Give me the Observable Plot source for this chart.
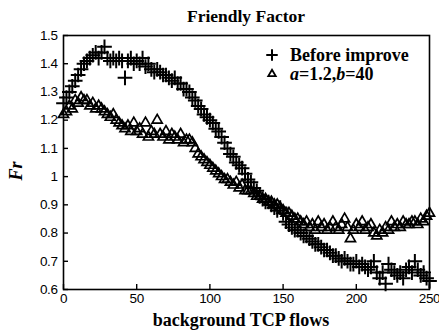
<!DOCTYPE html>
<html>
<head>
<meta charset="utf-8">
<script src="https://cdn.jsdelivr.net/npm/d3@7"></script>
<script src="https://cdn.jsdelivr.net/npm/@observablehq/plot@0.6"></script>
<style>
  html, body { margin: 0; padding: 0; background: #fff; }
  svg { display: block; }
</style>
</head>
<body>
<div id="chart"></div>
<script>
const flows = [0,2,4,6,8,10,12,14,16,18,20,22,24,26,28,30,32,34,36,38,40,42,44,46,48,50,52,54,56,58,60,62,64,66,68,70,72,74,76,78,80,82,84,86,88,90,92,94,96,98,100,102,104,106,108,110,112,114,116,118,120,122,124,126,128,130,132,134,136,138,140,142,144,146,148,150,152,154,156,158,160,162,164,166,168,170,172,174,176,178,180,182,184,186,188,190,192,194,196,198,200,202,204,206,208,210,212,214,216,218,220,222,224,226,228,230,232,234,236,238,240,242,244,246,248,250];

const beforeImprove = [
  1.26,1.28,1.30,1.32,1.34,1.36,1.38,1.40,1.41,1.42,
  1.43,1.44,1.42,1.44,1.46,1.42,1.41,1.42,1.41,1.42,
  1.41,1.35,1.41,1.42,1.40,1.41,1.40,1.42,1.39,1.40,
  1.38,1.37,1.38,1.37,1.36,1.36,1.35,1.34,1.35,1.33,
  1.33,1.31,1.31,1.30,1.28,1.27,1.25,1.24,1.22,1.21,
  1.20,1.19,1.17,1.16,1.14,1.12,1.10,1.08,1.07,1.05,
  1.04,1.03,1.01,0.99,0.98,0.96,0.95,0.93,0.92,0.91,
  0.91,0.90,0.89,0.88,0.89,0.87,0.84,0.83,0.82,0.81,
  0.81,0.80,0.79,0.79,0.78,0.77,0.76,0.76,0.75,0.74,
  0.74,0.73,0.72,0.72,0.71,0.70,0.71,0.70,0.69,0.69,
  0.70,0.68,0.69,0.68,0.67,0.68,0.70,0.66,0.64,0.66,
  0.62,0.69,0.67,0.66,0.65,0.66,0.64,0.67,0.68,0.66,
  0.70,0.67,0.65,0.66,0.64,0.63
];

const improved = [
  1.22,1.23,1.25,1.24,1.27,1.26,1.28,1.27,1.27,1.25,
  1.26,1.24,1.25,1.24,1.23,1.22,1.21,1.22,1.20,1.19,
  1.18,1.17,1.18,1.16,1.19,1.16,1.17,1.15,1.19,1.14,
  1.16,1.15,1.20,1.15,1.14,1.16,1.13,1.15,1.14,1.13,
  1.15,1.12,1.13,1.13,1.12,1.10,1.08,1.07,1.06,1.05,
  1.04,1.03,1.02,1.01,1.00,0.99,0.99,0.98,0.97,0.98,
  0.96,0.97,0.95,0.95,0.95,0.94,0.93,0.93,0.92,0.92,
  0.91,0.91,0.90,0.90,0.89,0.88,0.87,0.87,0.86,0.85,
  0.85,0.84,0.83,0.84,0.82,0.83,0.81,0.84,0.82,0.83,
  0.81,0.82,0.84,0.82,0.81,0.83,0.85,0.82,0.78,0.81,
  0.83,0.82,0.84,0.81,0.82,0.83,0.80,0.79,0.81,0.80,
  0.82,0.81,0.84,0.82,0.83,0.82,0.84,0.83,0.83,0.84,
  0.84,0.83,0.85,0.84,0.86,0.87
];

const xTicks = [0,50,100,150,200,250];
const yTicks = [0.6,0.7,0.8,0.9,1.0,1.1,1.2,1.3,1.4,1.5];
const yTickLabels = ["0.6","0.7","0.8","0.9","1","1.1","1.2","1.3","1.4","1.5"];
const title = "Friendly Factor";
const xLabel = "background TCP flows";
const seriesNames = ["Before improve", "a=1.2,b=40"];

const dataBefore = flows.map((f, i) => ({flows: f, fr: beforeImprove[i]}));
const dataImproved = flows.map((f, i) => ({flows: f, fr: improved[i]}));

const W = 439, H = 333;
const mL = 63, mR = 10, mT = 35, mB = 44;
const tickFont = "'Liberation Sans', Arial, sans-serif";
const serif = "'Liberation Serif', 'Times New Roman', serif";

const chart = Plot.plot({
  width: W,
  height: H,
  marginLeft: mL,
  marginRight: mR,
  marginTop: mT,
  marginBottom: mB,
  style: {background: "#fff", color: "#000", fontFamily: tickFont, fontSize: "13.5px", letterSpacing: "-0.4px"},
  x: {domain: [0, 250]},
  y: {domain: [0.6, 1.5]},
  marks: [
    Plot.dot(dataImproved, {x: "flows", y: "fr", symbol: "triangle2", r: 4.8, stroke: "#000", strokeWidth: 1.7, fill: "none"}),
    Plot.dot(dataBefore, {x: "flows", y: "fr", symbol: "plus", r: 4.8, stroke: "#000", strokeWidth: 2}),
    Plot.frame({stroke: "#000", strokeWidth: 1.6}),
    Plot.axisX({ticks: xTicks, tickSize: -5, tickPadding: 9, tickFormat: d => String(d), label: null, strokeWidth: 1.4}),
    Plot.axisY({ticks: yTicks, tickSize: -5, tickPadding: 11, tickFormat: d => yTickLabels[yTicks.findIndex(t => Math.abs(t - d) < 1e-9)], label: null, strokeWidth: 1.4})
  ]
});

const svg = d3.select(chart);
// title
svg.append("text")
  .attr("x", 246).attr("y", 22)
  .attr("text-anchor", "middle")
  .attr("font-family", serif).attr("font-weight", "bold").attr("font-size", 17.5)
  .attr("letter-spacing", "0")
  .attr("fill", "#000")
  .text(title);
// x label
svg.append("text")
  .attr("x", 241).attr("y", 326)
  .attr("text-anchor", "middle")
  .attr("font-family", serif).attr("font-weight", "bold").attr("font-size", 18)
  .attr("letter-spacing", "0")
  .attr("fill", "#000")
  .text(xLabel);
// y label
svg.append("text")
  .attr("transform", "translate(22,171) rotate(-90)")
  .attr("text-anchor", "middle")
  .attr("font-family", serif).attr("font-style", "italic").attr("font-weight", "bold").attr("font-size", 18)
  .attr("letter-spacing", "0")
  .attr("fill", "#000")
  .text("Fr");
// legend
const lg = svg.append("g");
lg.append("path")
  .attr("transform", "translate(272,55)")
  .attr("d", d3.symbol(d3.symbolPlus, 45)())
  .attr("fill", "none").attr("stroke", "#000").attr("stroke-width", 2);
lg.append("path")
  .attr("transform", "translate(272,74)")
  .attr("d", d3.symbol(d3.symbolTriangle2, 40)())
  .attr("fill", "none").attr("stroke", "#000").attr("stroke-width", 1.8);
lg.append("text")
  .attr("x", 290).attr("y", 61)
  .attr("text-anchor", "start")
  .attr("font-family", serif).attr("font-weight", "bold").attr("font-size", 18)
  .attr("letter-spacing", "0")
  .attr("fill", "#000")
  .text(seriesNames[0]);
const t2 = lg.append("text")
  .attr("x", 290).attr("y", 80)
  .attr("text-anchor", "start")
  .attr("font-family", serif).attr("font-weight", "bold").attr("font-size", 18)
  .attr("letter-spacing", "0")
  .attr("fill", "#000");
t2.append("tspan").attr("font-style", "italic").text("a");
t2.append("tspan").text("=1.2,");
t2.append("tspan").attr("font-style", "italic").text("b");
t2.append("tspan").text("=40");

document.getElementById("chart").appendChild(chart);
</script>
</body>
</html>
